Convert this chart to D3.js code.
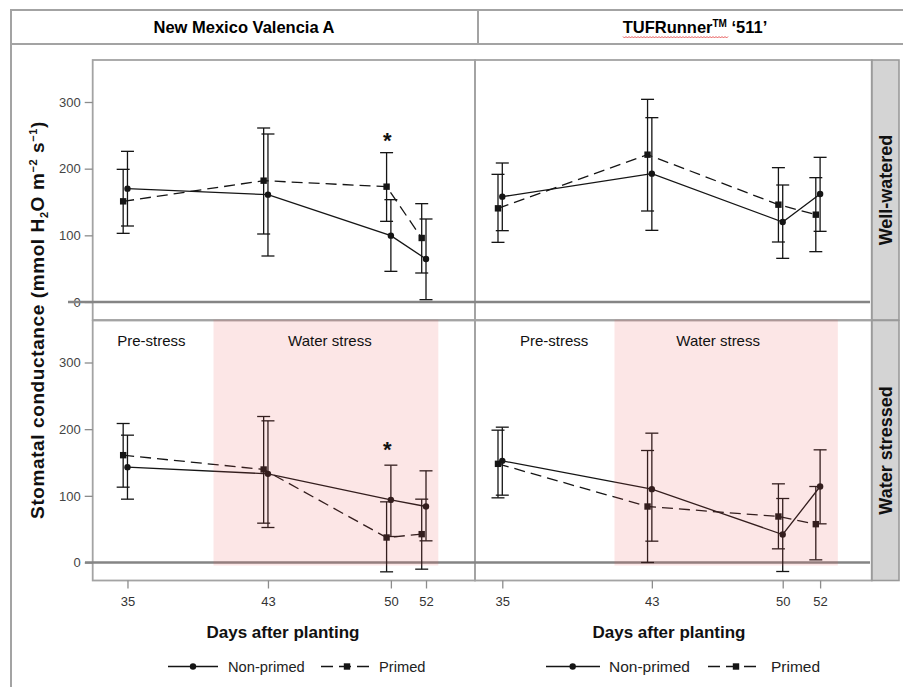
<!DOCTYPE html>
<html>
<head>
<meta charset="utf-8">
<style>
  body { margin: 0; background: #fff; }
  svg { display: block; font-family: 'Liberation Sans', Arial, sans-serif; }
  .axis .domain { display: none; }
  .axis .tick line { stroke: #8c8c8c; stroke-width: 1.3px; }
  .y .tick text { font-size: 13px; fill: #444; }
  .x .tick text { font-size: 13px; fill: #333; }
</style>
</head>
<body>
<svg width="903" height="687"></svg>
<script src="https://d3js.org/d3.v7.min.js"></script>
<script>
// ---- data ----
const days = [35, 43, 50, 52];
const yTicks = [0, 100, 200, 300];
const cultivars = ["New Mexico Valencia A", "TUFRunner"];
const treatments = ["Well-watered", "Water stressed"];
const seriesNames = ["Non-primed", "Primed"];

// New Mexico Valencia A, well-watered
const nmWellNonMean = [170, 161, 99.5, 64.5];
const nmWellNonLow  = [114, 69, 46, 3.5];
const nmWellNonHigh = [226, 252, 153.5, 124.5];
const nmWellPriMean = [151, 182, 173, 96];
const nmWellPriLow  = [103, 102, 121, 43.5];
const nmWellPriHigh = [199, 261, 224, 147.5];

// TUFRunner '511', well-watered
const tufWellNonMean = [158, 192.5, 120, 162];
const tufWellNonLow  = [107, 107.5, 65.5, 106];
const tufWellNonHigh = [208.5, 276.5, 175.5, 217];
const tufWellPriMean = [140.5, 221, 146, 131];
const tufWellPriLow  = [89.5, 136.5, 90, 75.5];
const tufWellPriHigh = [191.5, 304, 201.5, 186.5];

// New Mexico Valencia A, water stressed
const nmStressNonMean = [143, 133, 94, 84];
const nmStressNonLow  = [95, 52.5, 39, 32.5];
const nmStressNonHigh = [191, 212.5, 146, 137.5];
const nmStressPriMean = [161, 139.5, 37.5, 42.5];
const nmStressPriLow  = [113, 59, -14, -10];
const nmStressPriHigh = [208.5, 219, 91, 95];

// TUFRunner '511', water stressed
const tufStressNonMean = [152.5, 110, 42, 114];
const tufStressNonLow  = [101, 32, -13.5, 58];
const tufStressNonHigh = [203, 194, 96, 169];
const tufStressPriMean = [148, 84, 69, 57.5];
const tufStressPriLow  = [97, 0, 20.5, 4];
const tufStressPriHigh = [198.5, 168, 118, 114];

// water stress period (days) per cultivar column
const stressStart = [39.9, 41.0];
const stressEnd = [52.7, 52.95];

// significance marks: column, row, day, value
const sigCol = [0, 0];
const sigRow = [0, 1];
const sigDay = [50, 50];
const sigValue = [252, 178];

// ---- layout ----
const svg = d3.select("svg");
const ink = "#151515";
const frame = "#a3a3a3";

const xScales = [
  d3.scaleLinear().domain([33.02, 54.79]).range([92.7, 475]),
  d3.scaleLinear().domain([33.54, 54.76]).range([475, 871.7])
];
const yScales = [
  d3.scaleLinear().domain([-27, 363]).range([320, 60]),
  d3.scaleLinear().domain([-27, 363]).range([580.5, 320.5])
];
const primedShift = -4.3;

function series(mean, lo, hi) {
  return days.map((d, i) => ({ day: d, mean: mean[i], lo: lo[i], hi: hi[i] }));
}

const panels = [
  { col: 0, row: 0, non: series(nmWellNonMean, nmWellNonLow, nmWellNonHigh), pri: series(nmWellPriMean, nmWellPriLow, nmWellPriHigh) },
  { col: 1, row: 0, non: series(tufWellNonMean, tufWellNonLow, tufWellNonHigh), pri: series(tufWellPriMean, tufWellPriLow, tufWellPriHigh) },
  { col: 0, row: 1, non: series(nmStressNonMean, nmStressNonLow, nmStressNonHigh), pri: series(nmStressPriMean, nmStressPriLow, nmStressPriHigh) },
  { col: 1, row: 1, non: series(tufStressNonMean, tufStressNonLow, tufStressNonHigh), pri: series(tufStressPriMean, tufStressPriLow, tufStressPriHigh) }
];

// ---- outer table frame and header ----
svg.append("line").attr("x1", 11).attr("x2", 903).attr("y1", 10).attr("y2", 10)
  .style("stroke", frame).style("stroke-width", 2);
svg.append("line").attr("x1", 11).attr("x2", 903).attr("y1", 44).attr("y2", 44)
  .style("stroke", frame).style("stroke-width", 2);
svg.append("line").attr("x1", 11).attr("x2", 11).attr("y1", 9).attr("y2", 687)
  .style("stroke", frame).style("stroke-width", 2);
svg.append("line").attr("x1", 478).attr("x2", 478).attr("y1", 10).attr("y2", 44)
  .style("stroke", frame).style("stroke-width", 2);

svg.append("text").attr("x", 244).attr("y", 33).attr("text-anchor", "middle")
  .style("font-size", "16.5px").style("font-weight", "bold").text(cultivars[0]);

const hdr = svg.append("text").attr("x", 695).attr("y", 33).attr("text-anchor", "middle")
  .style("font-size", "16.5px").style("font-weight", "bold");
hdr.append("tspan").text(cultivars[1]);
hdr.append("tspan").attr("dy", -6).style("font-size", "10px").text("TM");
hdr.append("tspan").attr("dy", 6).text(" \u2018511\u2019");

// spell-check squiggle under the brand name
const sq = d3.path();
sq.moveTo(623, 36.5);
for (let xx = 623, k = 0; xx < 727; xx += 1.5, k++) sq.lineTo(xx + 1.5, k % 2 ? 36.5 : 38);
svg.append("path").attr("d", sq.toString()).attr("fill", "none")
  .style("stroke", "#e03030").style("stroke-width", 0.8);

// ---- y axis title ----
const yt = svg.append("text").attr("transform", "translate(44,320) rotate(-90)")
  .attr("text-anchor", "middle").style("font-size", "19px").style("font-weight", "bold")
  .style("letter-spacing", "0.6px").style("fill", "#111");
yt.append("tspan").text("Stomatal conductance (mmol H");
yt.append("tspan").attr("dy", 4).style("font-size", "11px").text("2");
yt.append("tspan").attr("dy", -4).text("O m");
yt.append("tspan").attr("dy", -7).style("font-size", "11px").text("\u22122");
yt.append("tspan").attr("dy", 7).text(" s");
yt.append("tspan").attr("dy", -7).style("font-size", "11px").text("\u22121");
yt.append("tspan").attr("dy", 7).text(")");

// ---- panel frames, axes, zero lines ----
[0, 1].forEach(r => {
  const y = yScales[r];
  [0, 1].forEach(c => {
    const x = xScales[c];
    svg.append("rect")
      .attr("x", x.range()[0]).attr("y", y.range()[1])
      .attr("width", x.range()[1] - x.range()[0]).attr("height", y.range()[0] - y.range()[1])
      .attr("fill", "none").style("stroke", frame).style("stroke-width", 1.8);
  });

  svg.append("g").attr("class", "y axis")
    .attr("transform", `translate(${xScales[0].range()[0]},0)`)
    .call(d3.axisLeft(y).tickValues(yTicks).tickSize(8).tickPadding(4));

  // strip label
  svg.append("rect").attr("x", 872).attr("y", y.range()[1]).attr("width", 27)
    .attr("height", y.range()[0] - y.range()[1])
    .attr("fill", "#d4d4d4").style("stroke", "#9a9a9a").style("stroke-width", 1.6);
  svg.append("text")
    .attr("transform", `translate(886,${(y.range()[0] + y.range()[1]) / 2}) rotate(-90)`)
    .attr("dy", "0.36em").attr("text-anchor", "middle")
    .style("font-size", "18px").style("font-weight", "bold").style("fill", "#111")
    .text(treatments[r]);

  // zero reference line
  svg.append("line")
    .attr("x1", r === 0 ? 68 : 85).attr("x2", 870)
    .attr("y1", y(0)).attr("y2", y(0))
    .style("stroke", "#858585").style("stroke-width", 2.6);
});

[0, 1].forEach(c => {
  svg.append("g").attr("class", "x axis")
    .attr("transform", `translate(0,${yScales[1].range()[0]})`)
    .call(d3.axisBottom(xScales[c]).tickValues(days).tickSize(8).tickPadding(8));

  svg.append("text").attr("x", c === 0 ? 283 : 669).attr("y", 638)
    .attr("text-anchor", "middle").style("font-size", "17px").style("font-weight", "bold")
    .style("fill", "#111").text("Days after planting");
});

// ---- data marks ----
panels.forEach(p => {
  const x = xScales[p.col], y = yScales[p.row];
  const g = svg.append("g");
  [["pri", primedShift, "11,6"], ["non", 0, null]].forEach(([key, shift, dash]) => {
    const pts = p[key];
    const px = d => x(d.day) + shift;

    g.append("path")
      .attr("d", d3.line().x(px).y(d => y(d.mean))(pts))
      .attr("fill", "none").style("stroke", ink).style("stroke-width", 1.3)
      .style("stroke-dasharray", dash);

    const bars = g.append("g").selectAll("g").data(pts).join("g")
      .style("stroke", ink).style("stroke-width", 1.3);
    bars.append("line").attr("x1", px).attr("x2", px)
      .attr("y1", d => y(d.lo)).attr("y2", d => y(d.hi));
    bars.append("line").attr("x1", d => px(d) - 6.5).attr("x2", d => px(d) + 6.5)
      .attr("y1", d => y(d.hi)).attr("y2", d => y(d.hi));
    bars.append("line").attr("x1", d => px(d) - 6.5).attr("x2", d => px(d) + 6.5)
      .attr("y1", d => y(d.lo)).attr("y2", d => y(d.lo));

    if (key === "non") {
      g.append("g").selectAll("circle").data(pts).join("circle")
        .attr("cx", px).attr("cy", d => y(d.mean)).attr("r", 3.2).attr("fill", ink);
    } else {
      g.append("g").selectAll("rect").data(pts).join("rect")
        .attr("x", d => px(d) - 3.2).attr("y", d => y(d.mean) - 3.2)
        .attr("width", 6.4).attr("height", 6.4).attr("fill", ink);
    }
  });
});

// ---- water stress shading (bottom row) ----
[0, 1].forEach(c => {
  const x = xScales[c], y = yScales[1];
  svg.append("rect")
    .attr("x", x(stressStart[c])).attr("width", x(stressEnd[c]) - x(stressStart[c]))
    .attr("y", y.range()[1] - 0.8).attr("height", y(-4.5) - y.range()[1] + 0.8)
    .attr("fill", "#e85a5a").attr("fill-opacity", 0.15);

  svg.append("text").attr("x", x((x.domain()[0] + stressStart[c]) / 2 + (c === 0 ? -0.1 : 0.5)))
    .attr("y", 346).attr("text-anchor", "middle").style("font-size", "15px").style("fill", "#111")
    .text("Pre-stress");
  svg.append("text").attr("x", x((stressStart[c] + stressEnd[c]) / 2) + (c === 0 ? 4 : -8))
    .attr("y", 346).attr("text-anchor", "middle").style("font-size", "15px").style("fill", "#111")
    .text("Water stress");
});

// ---- significance asterisks ----
sigDay.forEach((d, i) => {
  svg.append("text")
    .attr("x", xScales[sigCol[i]](d) - 3.5).attr("y", yScales[sigRow[i]](sigValue[i]))
    .attr("dy", "0.62em").attr("text-anchor", "middle")
    .style("font-size", "22px").style("font-weight", "bold").style("fill", "#111").text("*");
});

// ---- legends ----
const legendY = 666.5;
const legendRows = [
  { solid: [168, 218], dot: 193, nonText: 228, dash: [321, 371], sq: 347, priText: 379, size: 14.7 },
  { solid: [546, 600], dot: 572.7, nonText: 609, dash: [708, 760], sq: 736, priText: 771, size: 15.5 }
];
legendRows.forEach(l => {
  svg.append("line").attr("x1", l.solid[0]).attr("x2", l.solid[1]).attr("y1", legendY).attr("y2", legendY)
    .style("stroke", ink).style("stroke-width", 1.3);
  svg.append("circle").attr("cx", l.dot).attr("cy", legendY).attr("r", 3.2).attr("fill", ink);
  svg.append("text").attr("x", l.nonText).attr("y", legendY).attr("dy", "0.36em")
    .style("font-size", l.size + "px").style("fill", "#222").text(seriesNames[0]);
  svg.append("line").attr("x1", l.dash[0]).attr("x2", l.dash[1]).attr("y1", legendY).attr("y2", legendY)
    .style("stroke", ink).style("stroke-width", 1.3).style("stroke-dasharray", "12,6");
  svg.append("rect").attr("x", l.sq - 3.2).attr("y", legendY - 3.2).attr("width", 6.4).attr("height", 6.4).attr("fill", ink);
  svg.append("text").attr("x", l.priText).attr("y", legendY).attr("dy", "0.36em")
    .style("font-size", l.size + "px").style("fill", "#222").text(seriesNames[1]);
});
</script>
</body>
</html>
